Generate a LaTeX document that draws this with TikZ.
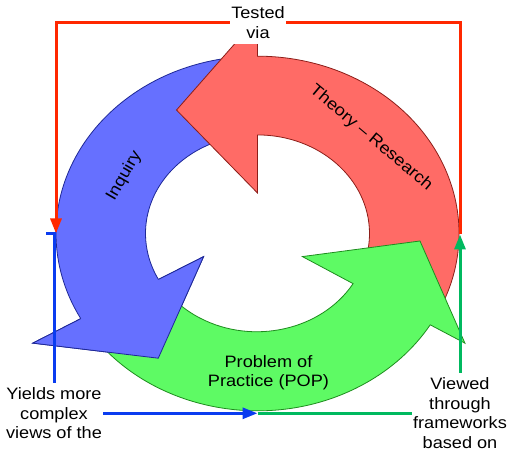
\documentclass[tikz,border=0pt]{standalone}
\usepackage{fontspec}
\setmainfont{Liberation Sans}[FakeStretch=1.1]
\usetikzlibrary{arrows.meta}
\definecolor{bluefill}{RGB}{102,112,255}
\definecolor{blueedge}{RGB}{30,40,150}
\definecolor{redfill}{RGB}{255,107,102}
\definecolor{rededge}{RGB}{140,30,25}
\definecolor{greenfill}{RGB}{94,250,100}
\definecolor{greenedge}{RGB}{30,140,30}
\definecolor{redcon}{RGB}{255,40,0}
\definecolor{bluecon}{RGB}{10,60,240}
\definecolor{greencon}{RGB}{0,185,95}
\begin{document}
\begin{tikzpicture}[x=1pt,y=1pt,
    every node/.style={font=\fontsize{16.5}{19.5}\selectfont},
    ring/.style={line width=0.8pt,line join=miter},
    con/.style={line width=3pt,-{Triangle[length=15pt,width=11pt]}},
    lbl/.style={fill=white,text=black,align=center,inner xsep=1.5pt,inner ysep=5pt}]
  \useasboundingbox (0,0) rectangle (507,452);
  \begin{scope}[shift={(257.5,218.5)},yscale=0.88]
    \filldraw[ring,fill=bluefill,draw=blueedge] (93:201.5) arc[start angle=93,end angle=208.7,radius=201.5]
      -- (209:257) -- (235:173) -- (206:60) -- (207.8:112) arc[start angle=207.8,end angle=93,radius=112] -- cycle;
    \filldraw[ring,fill=redfill,draw=rededge] (-28:201.5) arc[start angle=-28,end angle=90,radius=201.5]
      -- (90:245) -- (120:162) -- (90:46) -- (90:112) arc[start angle=90,end angle=-28,radius=112] -- cycle;
    \filldraw[ring,fill=greenfill,draw=greenedge] (212:201.5) arc[start angle=212,end angle=329,radius=201.5]
      -- (329:242) -- (357:162.7) -- (329.7:52) -- (329.2:111.3) arc[start angle=329.2,end angle=212,radius=112] -- cycle;
    % blue head once more, over the green tail
    \filldraw[ring,fill=bluefill,draw=blueedge] (207.8:112) -- (206:60) -- (235:173) -- (209:257) -- (208.7:201.5);
    \coordinate (inqL) at (180:201.5);
  \end{scope}
  \coordinate (theR) at (460,217.5);
  \coordinate (popB) at (257.5,38.7);
  \node[rotate=60] (inq) at (124.2,276) {Inquiry};
  \node[rotate=-40] (theo) at (371,314) {Theory -- Research};
  \node[align=center] (pop) at (268.5,79.5) {Problem of\\Practice (POP)};
  \draw[con,redcon] (theR) -- (theR |- 0,429.3) -- node[lbl] (tested) {Tested\\via} (inqL |- 0,429.3) -- (inqL);
  \draw[con,bluecon] ([xshift=-10pt]inqL) -- ++(8,0) |- node[lbl,pos=0.5] (yields) {Yields more\\complex\\views of the} (popB);
  \draw[con,greencon] (popB) -| node[lbl,pos=0.5] (viewed) {Viewed\\through\\frameworks\\based on} (theR);
\end{tikzpicture}
\end{document}
